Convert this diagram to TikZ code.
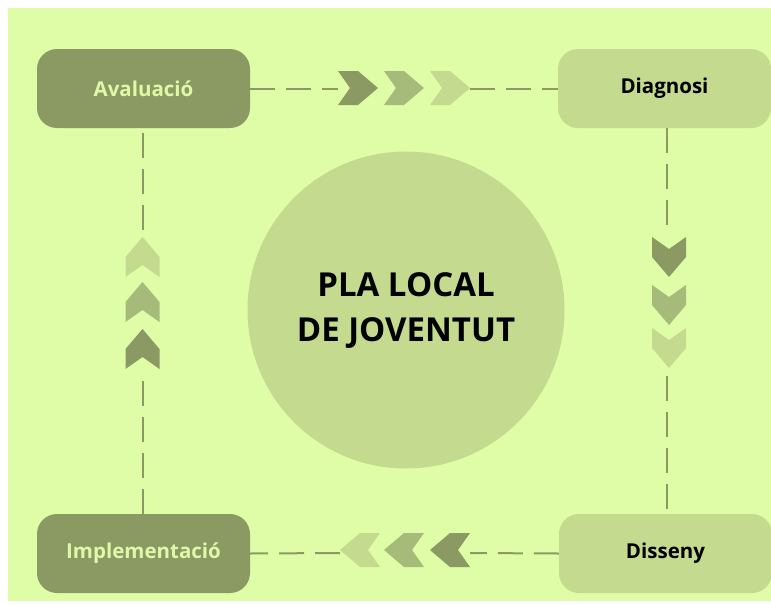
\documentclass[tikz,border=0pt]{standalone}
\usepackage{fontspec}
\setsansfont{Open Sans}
\definecolor{bggreen}{HTML}{DFFDA7}
\definecolor{darkolive}{HTML}{8A9A62}
\definecolor{midolive}{HTML}{A6BB7A}
\definecolor{paleolive}{HTML}{C3DA8F}
\definecolor{lighttext}{HTML}{E0F8A8}
\tikzset{
  stagebox/.style={rectangle, rounded corners=20pt, minimum width=213pt, minimum height=79pt,
    font=\sffamily\bfseries\fontsize{20.5}{24}\selectfont, inner sep=0pt},
  darkstage/.style={stagebox, fill=darkolive, text=lighttext},
  lightstage/.style={stagebox, fill=paleolive, text=black},
  link/.style={draw=darkolive, line width=2pt, dash pattern=on 25pt off 11pt},
  chev/.pic={\fill (-20,17) -- (0,17) -- (20,0) -- (0,-17) -- (-20,-17) -- (-8,0) -- cycle;}
}
\begin{document}
\begin{tikzpicture}[x=1pt, y=-1pt]
    \useasboundingbox (0,0) rectangle (771,603);
    \fill[white] (0,0) rectangle (771,603);
    \fill[bggreen] (8,8) rectangle (771,601);
    \node[circle, fill=paleolive, minimum size=317pt, align=center,
          font=\sffamily\bfseries\fontsize{33}{45}\selectfont] (pla) at (406,310) {PLA LOCAL\\DE JOVENTUT};
    \node[darkstage] (aval) at (143.5,88.5) {Avaluació};
    \node[lightstage] (diag) at (664.5,88.5) {Diagnosi};
    \node[lightstage] (diss) at (665.5,553.5) {Disseny};
    \node[darkstage] (impl) at (143.5,553.5) {Implementació};
    \coordinate (topA) at (338,88.5);
    \coordinate (topB) at (470,88.5);
    \coordinate (rgtA) at (667,230);
    \coordinate (rgtB) at (667,376);
    \coordinate (botA) at (470,553);
    \coordinate (botB) at (340,553);
    \coordinate (lftA) at (143,376);
    \coordinate (lftB) at (143,230);
    \draw[link] (aval.east) -- (topA);
    \draw[link] (topB) -- (diag.west);
    \draw[link] (diag.south -| rgtA) -- (rgtA);
    \draw[link] (rgtB) -- (diss.north -| rgtB);
    \draw[link] (diss.west) -- (botA);
    \draw[link] (botB) -- (impl.east);
    \draw[link] (impl.north -| lftA) -- (lftA);
    \draw[link] (lftB) -- (aval.south -| lftB);
    \pic[darkolive] at (358,88) {chev};
    \pic[midolive] at (404,88) {chev};
    \pic[paleolive] at (450,88) {chev};
    \pic[darkolive, rotate=-90] at (669,257) {chev};
    \pic[midolive, rotate=-90] at (669,305) {chev};
    \pic[paleolive, rotate=-90] at (669,348) {chev};
    \pic[darkolive, rotate=180] at (450,550) {chev};
    \pic[midolive, rotate=180] at (404,550) {chev};
    \pic[paleolive, rotate=180] at (360,550) {chev};
    \pic[darkolive, rotate=90] at (142.5,349) {chev};
    \pic[midolive, rotate=90] at (142.5,302) {chev};
    \pic[paleolive, rotate=90] at (142.5,257) {chev};
\end{tikzpicture}
\end{document}
